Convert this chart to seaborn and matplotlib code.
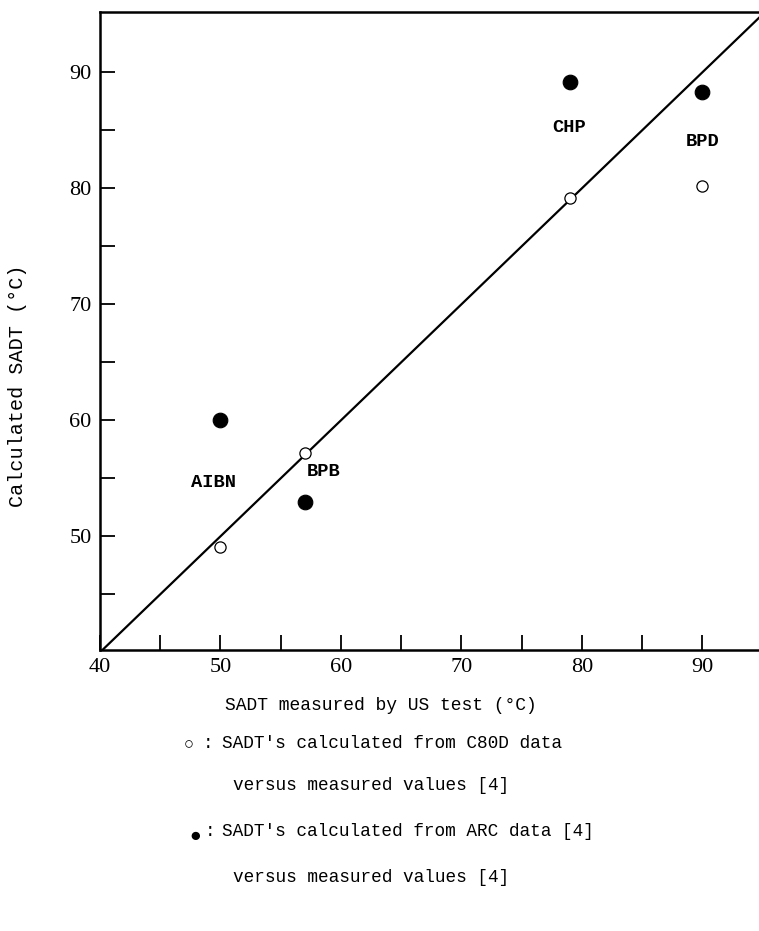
import matplotlib
matplotlib.use("Agg")
import matplotlib.pyplot as plt
import seaborn as sns
import pandas as pd
import numpy as np

# ---- data ----
compounds = ["AIBN", "BPB", "CHP", "BPD"]
measured = [50, 57, 79, 90]
calc_c80d = [49.1, 57.2, 79.2, 80.2]
calc_arc = [60.0, 53.0, 89.2, 88.3]
label_x = [49.4, 58.6, 78.9, 90.0]
label_y = [54.6, 55.6, 85.2, 84.0]
line_vals = [40, 95]
x_ticks = [40, 50, 60, 70, 80, 90]
y_ticks = [50, 60, 70, 80, 90]
legend_lines = ["SADT's calculated from C80D data",
                "versus measured values [4]",
                "SADT's calculated from ARC data [4]",
                "versus measured values [4]"]

sns.set_theme(style="white")
plt.rcParams["font.family"] = ["Liberation Serif", "DejaVu Serif"]
plt.rcParams["text.color"] = "black"
mono = ["Liberation Mono", "DejaVu Sans Mono", "DejaVu Sans"]

fig = plt.figure(figsize=(7.59, 9.31), dpi=100)
ax = fig.add_axes([100/759, 1 - 650/931, 1 - 100/759, (650 - 12)/931])

df_line = pd.DataFrame({"x": line_vals, "y": line_vals})
sns.lineplot(data=df_line, x="x", y="y", ax=ax, color="black", linewidth=1.6)

df_open = pd.DataFrame({"x": measured, "y": calc_c80d})
df_fill = pd.DataFrame({"x": measured, "y": calc_arc})
sns.scatterplot(data=df_open, x="x", y="y", ax=ax, marker="o", s=65,
                facecolor="white", edgecolor="black", linewidth=0.9, zorder=3)
sns.scatterplot(data=df_fill, x="x", y="y", ax=ax, marker="o", s=110,
                color="black", edgecolor="black", zorder=3)

for name, lx, ly in zip(compounds, label_x, label_y):
    ax.text(lx, ly, name, ha="center", va="center", fontsize=13.5,
            family=mono, fontweight="bold", color="black")

ax.set_xlim(40, 94.7)
ax.set_ylim(40.2, 95.2)
ax.set_xticks(x_ticks)
ax.set_yticks(y_ticks)
ax.set_xticks(np.arange(45, 95, 10), minor=True)
ax.set_yticks(np.arange(45, 95, 10), minor=True)
ax.tick_params(which="both", direction="in", length=11, width=1.3,
               labelsize=16, colors="black", left=True, bottom=True)
ax.tick_params(axis="x", pad=6)
ax.tick_params(axis="y", pad=6)
ax.set_xlabel("")
ax.set_ylabel("")
for side in ["left", "bottom", "top"]:
    ax.spines[side].set_visible(True)
    ax.spines[side].set_color("black")
    ax.spines[side].set_linewidth(1.8)
ax.spines["right"].set_visible(False)

fig.text(18/759, 1 - 386/931, "Calculated SADT (°C)", rotation=90,
         ha="center", va="center", fontsize=14.5, family=mono)
fig.text(225/759, 1 - 706/931, "SADT measured by US test (°C)",
         ha="left", va="center", fontsize=13, family=mono)

ys = [744, 785, 831, 877]
xs = [222, 233, 222, 233]
for t, yy, xx in zip(legend_lines, ys, xs):
    fig.text(xx/759, 1 - yy/931, t, ha="left", va="center",
             fontsize=12.8, family=mono)
fig.text(189/759, 1 - 745/931, "○", ha="center", va="center",
         fontsize=12, family=mono)
fig.text(195/759, 1 - 836/931, "●", ha="center", va="center",
         fontsize=14, family=mono)
fig.text(208/759, 1 - 744/931, ":", ha="center", va="center",
         fontsize=12.8, family=mono)
fig.text(210/759, 1 - 831/931, ":", ha="center", va="center",
         fontsize=12.8, family=mono)

fig.savefig("out.png", dpi=100)
